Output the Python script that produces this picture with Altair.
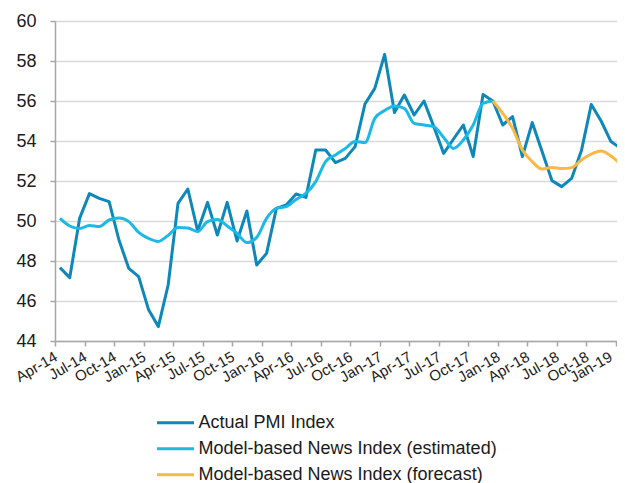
import json
import altair as alt
import pandas as pd

# ---- data (monthly, Apr-14 .. Feb-19) ----
months = [
    "Apr-14", "May-14", "Jun-14", "Jul-14", "Aug-14", "Sep-14", "Oct-14", "Nov-14", "Dec-14",
    "Jan-15", "Feb-15", "Mar-15", "Apr-15", "May-15", "Jun-15", "Jul-15", "Aug-15", "Sep-15",
    "Oct-15", "Nov-15", "Dec-15", "Jan-16", "Feb-16", "Mar-16", "Apr-16", "May-16", "Jun-16",
    "Jul-16", "Aug-16", "Sep-16", "Oct-16", "Nov-16", "Dec-16", "Jan-17", "Feb-17", "Mar-17",
    "Apr-17", "May-17", "Jun-17", "Jul-17", "Aug-17", "Sep-17", "Oct-17", "Nov-17", "Dec-17",
    "Jan-18", "Feb-18", "Mar-18", "Apr-18", "May-18", "Jun-18", "Jul-18", "Aug-18", "Sep-18",
    "Oct-18", "Nov-18", "Dec-18", "Jan-19", "Feb-19",
]

actual_pmi = [
    47.67, 47.17, 50.13, 51.37, 51.13, 50.97, 49.05, 47.63, 47.22,
    45.58, 44.72, 46.80, 50.88, 51.60, 49.50, 50.93, 49.30, 50.93,
    49.00, 50.50, 47.80, 48.38, 50.63, 50.80, 51.35, 51.18, 53.55,
    53.55, 52.92, 53.13, 53.72, 55.85, 56.63, 58.33, 55.42, 56.30,
    55.30, 56.00, 54.72, 53.38, 54.10, 54.80, 53.22, 56.33, 56.00,
    54.80, 55.22, 53.22, 54.92, 53.47, 52.02, 51.72, 52.13, 53.52,
    55.83, 55.00, 53.97, 53.63, 54.20,
]

# Apr-14 .. Dec-17
news_estimated = [
    50.13, 49.75, 49.62, 49.78, 49.72, 50.05, 50.15, 49.97, 49.43,
    49.13, 48.98, 49.28, 49.68, 49.65, 49.47, 49.97, 50.08, 49.75,
    49.38, 48.92, 49.18, 50.13, 50.63, 50.72, 51.08, 51.38, 51.97,
    52.97, 53.30, 53.63, 53.97, 53.92, 55.13, 55.52, 55.75, 55.63,
    54.88, 54.80, 54.72, 54.18, 53.63, 54.05, 54.80, 55.88, 56.00,
]

# Dec-17 .. Jan-19
news_forecast = [
    56.00, 55.38, 54.63, 53.55, 52.97, 52.60, 52.68, 52.62, 52.67,
    53.05, 53.35, 53.50, 53.25, 52.83,
]

quarter_labels = [
    "Apr-14", "Jul-14", "Oct-14", "Jan-15", "Apr-15", "Jul-15", "Oct-15", "Jan-16",
    "Apr-16", "Jul-16", "Oct-16", "Jan-17", "Apr-17", "Jul-17", "Oct-17", "Jan-18",
    "Apr-18", "Jul-18", "Oct-18", "Jan-19",
]

series_names = [
    "Actual PMI Index",
    "Model-based News Index (estimated)",
    "Model-based News Index (forecast)",
]
series_colors = ["#0E87B9", "#1DB9E6", "#FDB843"]
y_ticks = list(range(44, 61, 2))

# ---- long table ----
rows = []
for i, v in enumerate(actual_pmi):
    rows.append({"m": i, "month": months[i], "value": v, "series": series_names[0]})
for i, v in enumerate(news_estimated):
    rows.append({"m": i, "month": months[i], "value": v, "series": series_names[1]})
f0 = len(news_estimated) - 1
for i, v in enumerate(news_forecast):
    rows.append({"m": f0 + i, "month": months[f0 + i], "value": v, "series": series_names[2]})
df = pd.DataFrame(rows)

tick_vals = [3 * k - 0.5 for k in range(len(quarter_labels))]
label_expr = json.dumps(quarter_labels) + "[round((datum.value + 0.5) / 3)]"

FONT = "Liberation Sans"
PLOT_W = 562
PX_PER_MONTH = 9.84

x_enc = alt.X(
    "m:Q",
    scale=alt.Scale(domain=[-0.5, -0.5 + PLOT_W / PX_PER_MONTH], nice=False, zero=False),
    axis=alt.Axis(
        values=tick_vals,
        labelExpr=label_expr,
        title=None,
        grid=False,
        labelAngle=-30,
        labelAlign="right",
        labelBaseline="top",
        labelFontSize=15,
        labelPadding=3,
        labelOffset={"condition": {"test": "datum.value > 55", "value": -9}, "value": -3},
        labelOverlap=False,
        labelBound=False,
        labelFlush=False,
        labelColor="#1a1a1a",
        labelFont=FONT,
        tickSize=5,
        tickColor="#a6a6a6",
        tickWidth=1.5,
        domainColor="#a6a6a6",
        domainWidth=1.5,
    ),
)

y_enc = alt.Y(
    "value:Q",
    scale=alt.Scale(domain=[44, 60], nice=False, zero=False),
    axis=alt.Axis(
        values=y_ticks,
        title=None,
        grid=True,
        gridColor="#d9d9d9",
        gridWidth=1.6,
        labelFontSize=18,
        labelPadding=14,
        labelColor="#1a1a1a",
        labelFont=FONT,
        tickSize=5,
        tickColor="#a6a6a6",
        tickWidth=1.5,
        domainColor="#a6a6a6",
        domainWidth=1.5,
    ),
)

color_enc = alt.Color(
    "series:N",
    scale=alt.Scale(domain=series_names, range=series_colors),
    legend=alt.Legend(
        title=None,
        orient="none",
        legendX=100.5,
        legendY=389,
        direction="vertical",
        symbolType="stroke",
        symbolSize=1369,
        symbolStrokeWidth=3,
        clipHeight=25.5,
        rowPadding=0,
        padding=0,
        labelFontSize=18,
        labelOffset=3,
        labelLimit=500,
        labelColor="#1a1a1a",
        labelFont=FONT,
    ),
)

base = alt.Chart(df)

layers = []
for name, interp in zip(series_names, ["linear", "monotone", "monotone"]):
    layers.append(
        base.transform_filter(alt.datum.series == name)
        .mark_line(strokeWidth=3, interpolate=interp, clip=True, strokeJoin="round")
        .encode(x=x_enc, y=y_enc, color=color_enc, order="m:Q")
    )

chart = (
    alt.layer(*layers)
    .properties(
        width=PLOT_W,
        height=320,
        padding={"left": 47, "top": 13, "right": 0, "bottom": 142},
        autosize=alt.AutoSizeParams(type="none"),
    )
    .configure_view(strokeWidth=0)
    .configure(font=FONT)
)

chart.save("out.html", embed_options={"renderer": "svg", "actions": False})
